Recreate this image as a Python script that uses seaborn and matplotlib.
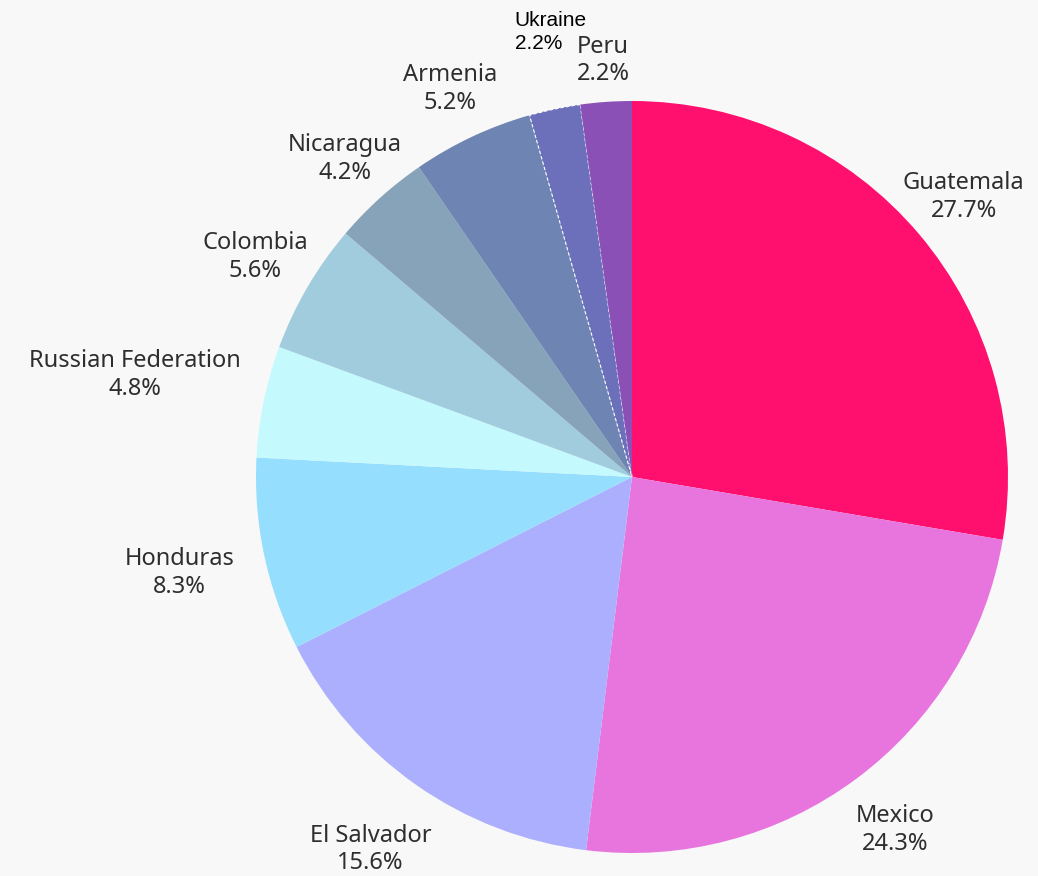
import matplotlib.pyplot as plt
import seaborn as sns
import numpy as np

sns.set_theme(style="white")
plt.rcParams['font.family'] = ['Noto Sans', 'DejaVu Sans']

# data, clockwise from the top
countries = ['Guatemala', 'Mexico', 'El Salvador', 'Honduras', 'Russian Federation',
             'Colombia', 'Nicaragua', 'Armenia', 'Ukraine', 'Peru']
shares = [27.7, 24.3, 15.6, 8.3, 4.8, 5.6, 4.2, 5.2, 2.2, 2.2]

colors = ['#ff0f6e', '#e874de', '#acaffe', '#96defe', '#c4f9fe',
          '#a0ccde', '#86a3ba', '#6e84b2', '#6c70bb', '#8b50b6']

# how far out each label sits (in radii)
label_dist = [1.155, 1.17, 1.21, 1.23, 1.35, 1.16, 1.14, 1.14, 1.21, 1.11]

fig = plt.figure(figsize=(10.38, 8.76), dpi=100)
fig.patch.set_facecolor('#f8f8f8')
ax = fig.add_axes([0, 0, 1, 1])
ax.set_facecolor('#f8f8f8')

wedges, _ = ax.pie(shares, colors=colors, startangle=90, counterclock=False,
                   wedgeprops=dict(linewidth=0))

# Ukraine slice has dashed white borders
wedges[8].set_edgecolor('white')
wedges[8].set_linestyle((0, (3, 2)))
wedges[8].set_linewidth(0.8)

for w, name, val, d in zip(wedges, countries, shares, label_dist):
    ang = np.deg2rad((w.theta1 + w.theta2) / 2)
    x, y = d * np.cos(ang), d * np.sin(ang)
    if name == 'Ukraine':
        # this one is nudged right so it clears the Armenia label
        ax.annotate(f"{name}\n{val}%", (x, y), xytext=(9, 0), textcoords='offset points',
                    ha='center', va='center', multialignment='left',
                    fontsize=15, color='black', family=['Liberation Sans', 'DejaVu Sans'],
                    linespacing=1.3)
    else:
        ax.text(x, y, f"{name}\n{val}%", ha='center', va='center',
                fontsize=17, color='#2e2e2e', linespacing=1.2)

ax.set_xlim(-632 / 376, (1038 - 632) / 376)
ax.set_ylim(-(876 - 477) / 376, 477 / 376)
ax.set_aspect('equal')
ax.axis('off')

fig.savefig('out.png', dpi=100, facecolor=fig.get_facecolor())
